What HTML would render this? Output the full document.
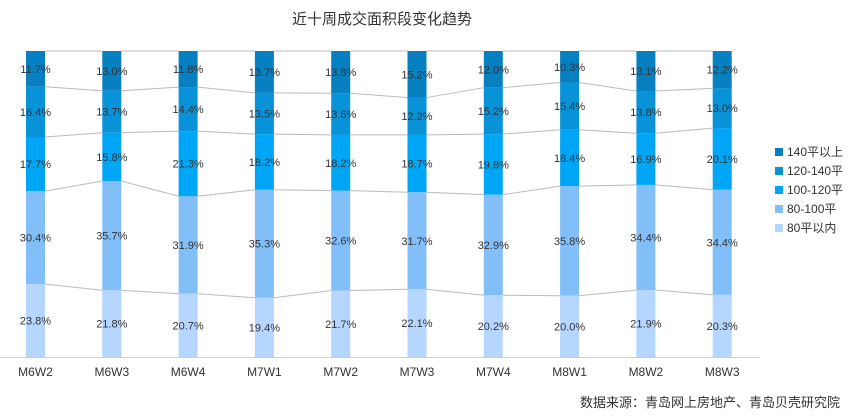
<!DOCTYPE html>
<html><head><meta charset="utf-8"><style>
body{margin:0;background:#fff;font-family:"Liberation Sans","Noto Sans CJK SC",sans-serif;}
svg text{font-family:"Liberation Sans","Noto Sans CJK SC",sans-serif;}
</style></head><body>
<svg id="c" width="859" height="415" xmlns="http://www.w3.org/2000/svg">
<text x="382" y="24" font-size="15" fill="#333" text-anchor="middle">近十周成交面积段变化趋势</text>
<text x="840" y="407" font-size="13" fill="#333" text-anchor="end">数据来源：青岛网上房地产、青岛贝壳研究院</text>
</svg>
<script>
(function(){
var svg=document.getElementById('c'),ns='http://www.w3.org/2000/svg';
function el(t,a,txt){var e=document.createElementNS(ns,t);for(var k in a)e.setAttribute(k,a[k]);if(txt!=null)e.textContent=txt;svg.appendChild(e);return e;}
var labels=['M6W2','M6W3','M6W4','M7W1','M7W2','M7W3','M7W4','M8W1','M8W2','M8W3'];
var d=[[23.8,30.4,17.7,16.4,11.7],[21.8,35.7,15.8,13.7,13.0],[20.7,31.9,21.3,14.4,11.8],[19.4,35.3,18.2,13.5,13.7],[21.7,32.6,18.2,13.6,13.8],[22.1,31.7,18.7,12.2,15.2],[20.2,32.9,19.8,15.2,12.0],[20.0,35.8,18.4,15.4,10.3],[21.9,34.4,16.9,13.8,13.1],[20.3,34.4,20.1,13.0,12.2]];
var cols=['#b5d6ff','#82bff9','#00a6f6','#0892d8','#0680c0'];
var T0=51,B0=357,H=B0-T0,w=19;
el('line',{x1:0,y1:B0+0.5,x2:760,y2:B0+0.5,stroke:'#ccc','stroke-width':1});
var bounds=[];
d.forEach(function(r,i){
 var cx=35.5+i*76.3,x=cx-w/2,s=r.reduce(function(a,b){return a+b},0),y=B0,b=[];
 r.forEach(function(v,j){var h=v/s*H;el('rect',{x:x,y:y-h,width:w,height:h,fill:cols[j]});b.push(y-h);
  el('text',{x:cx,y:y-h/2+4,'font-size':11,fill:'#333','text-anchor':'middle'},v.toFixed(1)+'%');y-=h;});
 bounds.push(b);
 el('text',{x:cx,y:376,'font-size':12,fill:'#333','text-anchor':'middle'},labels[i]);
});
for(var i=0;i<9;i++){var x1=35.5+i*76.3+w/2,x2=35.5+(i+1)*76.3-w/2;
 for(var j=0;j<5;j++)el('line',{x1:x1,y1:bounds[i][j],x2:x2,y2:bounds[i+1][j],stroke:'#bbb','stroke-width':1});}
var lg=['140平以上','120-140平','100-120平','80-100平','80平以内'];
lg.forEach(function(t,k){var y=152+k*19;el('rect',{x:775,y:y-4,width:8,height:8,fill:cols[4-k]});
 el('text',{x:787,y:y+4,'font-size':12,fill:'#333'},t);});
})();
</script>
</body></html>
